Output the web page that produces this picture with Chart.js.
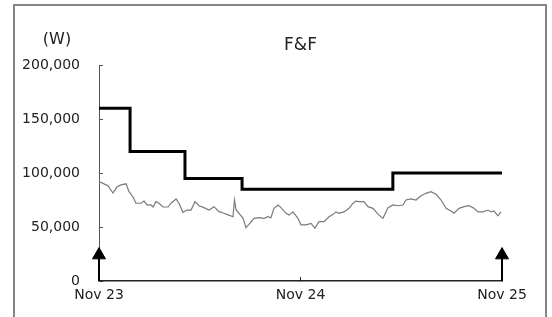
<!DOCTYPE html>
<html>
<head>
<meta charset="utf-8">
<script src="https://cdn.jsdelivr.net/npm/chart.js@4.4.1/dist/chart.umd.min.js"></script>
<style>
    body { margin: 0; background: #fff; }
    .wrap { position: relative; width: 552px; height: 317px; overflow: hidden; }
    .frame { position: absolute; left: 13px; top: 4px; width: 530px; height: 330px; border: 2px solid #858585; }
    canvas { position: absolute; left: 0; top: 0; }
</style>
</head>
<body>
<div class="wrap">
    <div class="frame"></div>
    <canvas id="myChart" width="552" height="317"></canvas>
</div>
<script>
const chartTitle = 'F&F';
const unitLabel = '(W)';

// x in months from Nov 23
const xTickLabels = ['Nov 23', 'Nov 24', 'Nov 25'];
const yTickValues = [0, 50000, 100000, 150000, 200000];
const yTickLabels = ['0', '50,000', '100,000', '150,000', '200,000'];

// target price (step line)
const targetMonths = [0, 1.85, 5.12, 8.52, 17.5, 24];
const targetValues = [160000, 120000, 95000, 85000, 100000, 100000];

// share price
const priceMonths = [0, 0.24, 0.54, 0.83, 1.07, 1.31, 1.61, 1.79, 2.02, 2.2, 2.5, 2.68, 2.86, 3.1, 3.22, 3.39, 3.57, 3.81, 4.11, 4.29,
    4.59, 4.76, 5.0, 5.24, 5.48, 5.72, 5.96, 6.25, 6.55, 6.85, 7.15, 7.44, 7.74, 7.98, 8.07, 8.16, 8.34, 8.58, 8.75, 8.93,
    9.23, 9.53, 9.83, 10.06, 10.24, 10.42, 10.66, 10.84, 11.14, 11.32, 11.55, 11.85, 12.03, 12.33, 12.63, 12.86, 13.1, 13.4, 13.7, 13.94,
    14.11, 14.29, 14.59, 14.89, 15.13, 15.31, 15.48, 15.78, 16.02, 16.32, 16.5, 16.68, 16.91, 17.21, 17.51, 17.81, 18.1, 18.28, 18.58, 18.88,
    19.18, 19.47, 19.77, 20.07, 20.37, 20.67, 20.96, 21.14, 21.44, 21.74, 22.04, 22.33, 22.57, 22.87, 23.17, 23.34, 23.52, 23.76, 23.94];
const priceValues = [92000, 90400, 88000, 81500, 87000, 89000, 90000, 82700, 78000, 72000, 72000, 74000, 70400, 70400, 68500, 73500, 72000, 68500, 68500, 72000,
    76000, 72000, 63600, 65700, 65700, 73500, 69700, 67900, 65700, 68800, 64200, 62700, 61000, 59500, 75000, 66000, 62700, 58000, 49400, 52500,
    58000, 58600, 58000, 59500, 58600, 67300, 70400, 67900, 62700, 61000, 64000, 58000, 52000, 52000, 53400, 48800, 55000, 55000, 59500, 61700,
    64000, 62700, 64000, 67300, 72000, 74000, 73500, 73500, 68800, 67300, 64000, 61000, 58000, 67900, 70400, 69700, 70400, 75000, 76000, 75000,
    79000, 81200, 82700, 80300, 75000, 67300, 64800, 62700, 67300, 68800, 69700, 67300, 64000, 64000, 65700, 64000, 64800, 60400, 64000];

// arrows at start and end
const arrowMonths = [0, 24];
const arrowTop = 24000;

function toPoints(xs, ys) {
    return xs.map((x, i) => ({ x: x, y: ys[i] }));
}

const labelFont = { family: 'DejaVu Sans', size: 14 };

const textPlugin = {
    id: 'texts',
    afterDraw(chart) {
        const ctx = chart.ctx;
        const area = chart.chartArea;
        ctx.save();
        ctx.fillStyle = '#222';
        ctx.textAlign = 'center';
        ctx.textBaseline = 'middle';
        ctx.font = '17px "DejaVu Sans"';
        ctx.fillText(chartTitle, (area.left + area.right) / 2, area.top - 19);
        ctx.font = '16px "DejaVu Sans"';
        ctx.fillText(unitLabel, 57, area.top - 25);
        ctx.restore();
    }
};

const arrowSets = arrowMonths.map(m => ({
    data: [{ x: m, y: 0 }, { x: m, y: arrowTop }],
    borderColor: '#000',
    borderWidth: 2,
    pointRadius: [0, 7.5],
    pointStyle: 'triangle',
    pointBackgroundColor: '#000',
    pointBorderColor: '#000',
    pointBorderWidth: 1,
    clip: false
}));

const config = {
    type: 'line',
    data: {
        datasets: [{
            data: toPoints(priceMonths, priceValues),
            borderColor: '#7a7a7a',
            borderWidth: 1.2,
            pointRadius: 0,
            tension: 0
        }, {
            data: toPoints(targetMonths, targetValues),
            borderColor: '#000',
            borderWidth: 3,
            pointRadius: 0,
            stepped: 'before',
            clip: false
        }, ...arrowSets]
    },
    options: {
        responsive: false,
        animation: false,
        layout: { padding: { top: 65, right: 50, left: 0, bottom: 0 } },
        plugins: {
            legend: { display: false },
            tooltip: { enabled: false }
        },
        scales: {
            x: {
                type: 'linear',
                min: 0,
                max: 24,
                afterFit: s => { s.height = 36; },
                afterBuildTicks: s => { s.ticks = [0, 12, 24].map(v => ({ value: v })); },
                ticks: {
                    font: labelFont,
                    color: '#222',
                    padding: 10,
                    maxRotation: 0,
                    callback: (v) => xTickLabels[v / 12]
                },
                grid: { drawOnChartArea: false, tickLength: -4, color: '#222' },
                border: { color: '#222', width: 1.5 }
            },
            y: {
                min: 0,
                max: 200000,
                afterFit: s => { s.width = 99; },
                afterBuildTicks: s => { s.ticks = yTickValues.map(v => ({ value: v })); },
                ticks: {
                    font: labelFont,
                    color: '#222',
                    padding: 23,
                    callback: (v) => yTickLabels[yTickValues.indexOf(v)]
                },
                grid: { drawOnChartArea: false, tickLength: -4, color: '#555' },
                border: { color: '#555', width: 1 }
            }
        }
    },
    plugins: [textPlugin]
};

const ctx = document.getElementById('myChart').getContext('2d');
new Chart(ctx, config);
</script>
</body>
</html>
